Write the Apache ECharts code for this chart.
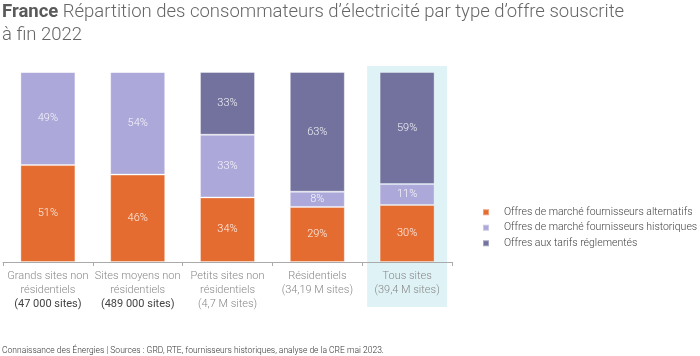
<!DOCTYPE html>
<html><head><meta charset="utf-8">
<script src="https://cdn.jsdelivr.net/npm/echarts@6/dist/echarts.min.js"></script>
<style>html,body{margin:0;padding:0;background:#fff}#c{width:700px;height:356px}</style>
</head><body><div id="c"></div>
<script>
const categoryNames = ['Grands sites non\nrésidentiels', 'Sites moyens non\nrésidentiels', 'Petits sites non\nrésidentiels', 'Résidentiels', 'Tous sites'];
const categorySizes = ['(47 000 sites)', '(489 000 sites)', '(4,7 M sites)', '(34,19 M sites)', '(39,4 M sites)'];
const sizeBold = [true, true, false, false, false];
const seriesNames = ['Offres de marché fournisseurs alternatifs', 'Offres de marché fournisseurs historiques', 'Offres aux tarifs réglementés'];
const alternatifs = [51, 46, 34, 29, 30];
const historiques = [49, 54, 33, 8, 11];
const reglementes = [0, 0, 33, 63, 59];
const colors = ['#E46C30', '#ACA8D9', '#73729F'];
const highlightIndex = 4;

const FONT = 'Roboto, "Open Sans", sans-serif';
const chart = echarts.init(document.getElementById('c'));
const cats = categoryNames.map((n, i) => i);

function mk(name, data, color) {
  return {
    name, type: 'bar', stack: 's', data, barWidth: 55,
    itemStyle: { color, borderColor: 'rgba(255,255,255,0.35)', borderWidth: 1 },
    label: { show: true, position: 'inside', color: 'rgba(255,255,255,0.9)', fontFamily: FONT, fontWeight: 300, fontSize: 11,
      formatter: p => p.value > 0 ? p.value + '%' : '' },
    emphasis: { disabled: true }
  };
}

chart.setOption({
  animation: false,
  textStyle: { fontFamily: FONT },
  title: {
    left: 2, top: 1, padding: 0,
    text: '{b|France} {n|Répartition des consommateurs d’électricité par type d’offre souscrite}\n{n|à fin 2022}',
    textStyle: {
      rich: {
        b: { fontFamily: FONT, fontSize: 18.5, fontWeight: 'bold', color: '#5a5a5a', lineHeight: 23 },
        n: { fontFamily: FONT, fontSize: 18.5, fontWeight: 300, color: '#666', lineHeight: 23 }
      }
    }
  },
  legend: {
    orient: 'vertical', left: 482, top: 206, padding: 0, icon: 'rect', itemWidth: 6, itemHeight: 6, itemGap: 3,
    textStyle: { fontFamily: FONT, fontSize: 10.5, color: '#444', fontWeight: 300, lineHeight: 12.5, padding: [0, 0, 0, 10] },
    data: seriesNames, selectedMode: false
  },
  grid: { left: 3, right: 248, top: 72, bottom: 94 },
  xAxis: {
    type: 'category', data: cats,
    axisLine: { lineStyle: { color: '#aaa' } },
    axisTick: { show: true, length: 4, lineStyle: { color: '#aaa' } },
    axisLabel: {
      interval: 0, margin: 7,
      formatter: (v) => {
        const i = +v;
        const lines = categoryNames[i].split('\n').map(l => '{n|' + l + '}');
        lines.push((sizeBold[i] ? '{b|' : '{n|') + categorySizes[i] + '}');
        return lines.join('\n');
      },
      rich: {
        n: { fontFamily: FONT, fontSize: 11, fontWeight: 300, color: '#888', lineHeight: 14, align: 'center' },
        b: { fontFamily: FONT, fontSize: 11, fontWeight: 400, color: '#444', lineHeight: 14, align: 'center' }
      }
    }
  },
  yAxis: { type: 'value', min: 0, max: 100, show: false, splitLine: { show: false } },
  series: [mk(seriesNames[0], alternatifs, colors[0]), mk(seriesNames[1], historiques, colors[1]), mk(seriesNames[2], reglementes, colors[2])],
  color: colors
});

const cx = chart.convertToPixel({ xAxisIndex: 0 }, highlightIndex);
const yTop = chart.convertToPixel({ yAxisIndex: 0 }, 100);
chart.setOption({
  graphic: [
    { type: 'rect', z: -10, silent: true, shape: { x: cx - 40, y: yTop - 6, width: 80, height: 241 }, style: { fill: '#DFF3F6' } },
    { type: 'text', left: 2, top: 346, silent: true,
      style: { text: 'Connaissance des Énergies | Sources : GRD, RTE, fournisseurs historiques, analyse de la CRE mai 2023.', font: '300 8.5px ' + FONT, fill: '#333' } }
  ]
});
</script>
</body></html>
